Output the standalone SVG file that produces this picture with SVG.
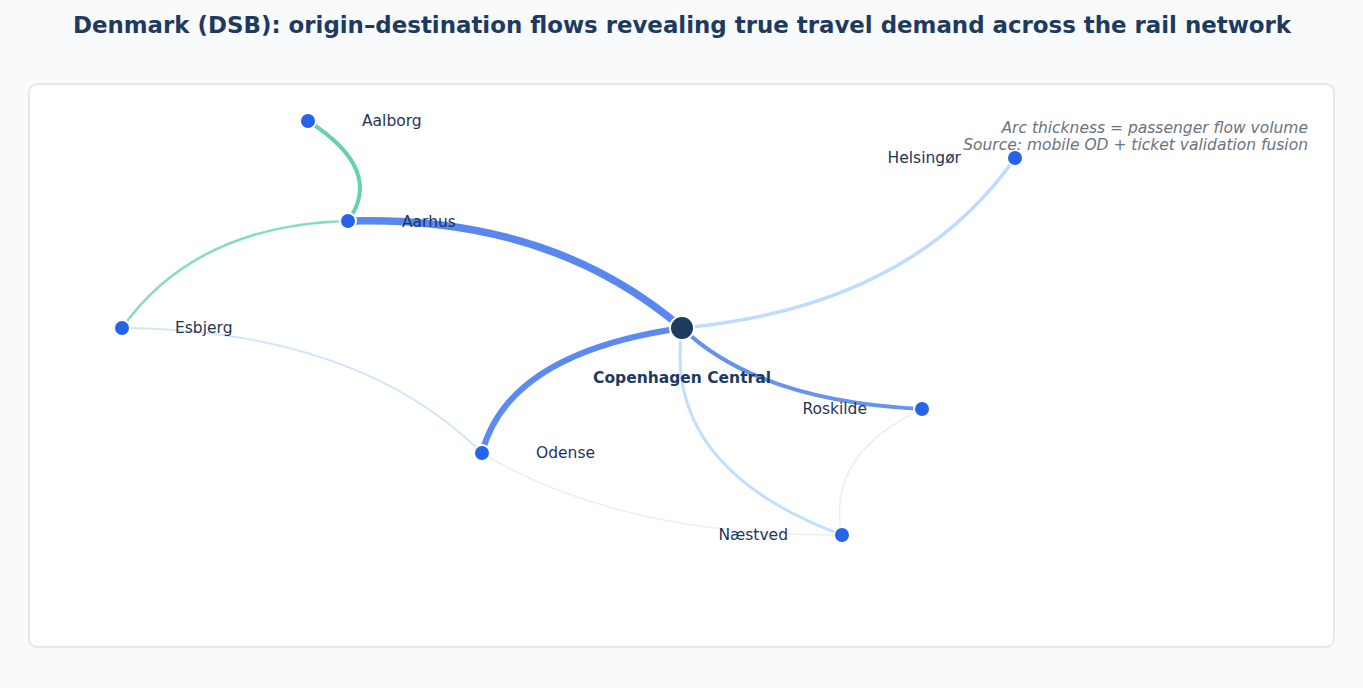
<svg xmlns="http://www.w3.org/2000/svg" width="1363" height="688" viewBox="0 0 1363 688">
<style>
.lbl{font-family:"DejaVu Sans",sans-serif;font-size:15.5px;fill:#1f3556}
.hub{font-family:"DejaVu Sans",sans-serif;font-size:15.5px;font-weight:bold;fill:#1e3a5f}
.note{font-family:"DejaVu Sans",sans-serif;font-size:15.5px;font-style:italic;fill:#6b7280}
.city{fill:#2563eb;stroke:#ffffff;stroke-width:2}
.e{fill:none;stroke-linecap:round}
</style>
<rect width="1363" height="688" fill="#f8fafc"/>
<text x="682" y="33" text-anchor="middle" font-family="DejaVu Sans, sans-serif" font-size="22.9" font-weight="bold" fill="#1e3a5f">Denmark (DSB): origin–destination flows revealing true travel demand across the rail network</text>
<rect x="29" y="84" width="1305" height="563" rx="8" fill="#ffffff" stroke="#e5e7eb" stroke-width="2"/>
<g id="connectors">
<path class="e" d="M482,453 Q618,536 842,535" stroke="#eeeeee" stroke-width="1.5"/>
<path class="e" d="M922,409 Q825,455 842,535" stroke="#eeeeee" stroke-width="1.5"/>
<path class="e" d="M122,328 Q358,330 482,453" stroke="#d2e6fb" stroke-width="2"/>
<path class="e" d="M122,328 Q195,225 348,221" stroke="#86dcc0" stroke-width="2.5"/>
<path class="e" d="M308,121 Q385,170 348,221" stroke="#66d1ae" stroke-width="4"/>
<path class="e" d="M682,328 Q911,307 1015,158" stroke="#bfdbfe" stroke-width="3.5"/>
<path class="e" d="M682,328 Q662,468 842,535" stroke="#c3defd" stroke-width="3"/>
<path class="e" d="M682,328 Q758,401 922,409" stroke="#6692f0" stroke-width="4"/>
<path class="e" d="M682,328 Q508,353 482,453" stroke="#5b8af0" stroke-width="6"/>
<path class="e" d="M348,221 Q550,215 682,328" stroke="#5a87ee" stroke-width="7.5"/>
</g>
<g id="aalborg"><circle class="city" cx="308" cy="121" r="8"/><text class="lbl" x="362" y="126">Aalborg</text></g>
<g id="aarhus"><circle class="city" cx="348" cy="221" r="8"/><text class="lbl" x="402" y="227">Aarhus</text></g>
<g id="esbjerg"><circle class="city" cx="122" cy="328" r="8"/><text class="lbl" x="175" y="333">Esbjerg</text></g>
<g id="odense"><circle class="city" cx="482" cy="453" r="8"/><text class="lbl" x="536" y="458">Odense</text></g>
<g id="helsingor"><circle class="city" cx="1015" cy="158" r="8"/><text class="lbl" x="961" y="163" text-anchor="end">Helsingør</text></g>
<g id="roskilde"><circle class="city" cx="922" cy="409" r="8"/><text class="lbl" x="867" y="414" text-anchor="end">Roskilde</text></g>
<g id="naestved"><circle class="city" cx="842" cy="535" r="8"/><text class="lbl" x="788" y="540" text-anchor="end">Næstved</text></g>
<g id="copenhagen"><circle cx="682" cy="328" r="12" fill="#1e3a5f" stroke="#ffffff" stroke-width="2"/><text class="hub" x="682" y="383" text-anchor="middle">Copenhagen Central</text></g>
<g id="legend">
<text class="note" x="1308" y="133" text-anchor="end">Arc thickness = passenger flow volume</text>
<text class="note" x="1308" y="150" text-anchor="end">Source: mobile OD + ticket validation fusion</text>
</g>
</svg>
